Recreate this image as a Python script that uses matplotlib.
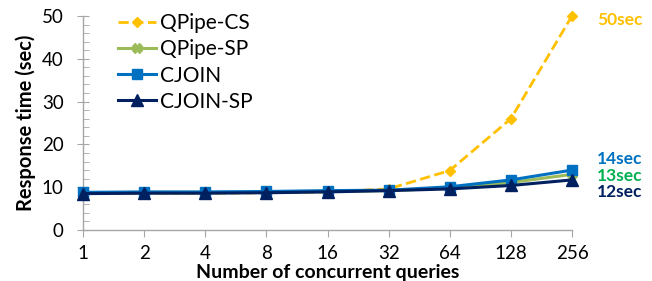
import matplotlib.pyplot as plt

plt.rcParams['font.family'] = ['Lato', 'DejaVu Sans']

queries = ['1', '2', '4', '8', '16', '32', '64', '128', '256']
qpipe_cs = [8.5, 8.6, 8.6, 8.7, 8.9, 9.6, 13.9, 26, 50]
qpipe_sp = [8.6, 8.7, 8.7, 8.8, 9.0, 9.2, 9.8, 11.1, 13]
cjoin = [8.8, 8.9, 8.9, 9.0, 9.2, 9.3, 10.1, 11.7, 14]
cjoin_sp = [8.5, 8.6, 8.6, 8.7, 8.9, 9.2, 9.6, 10.4, 11.7]
end_labels = ['50sec', '14sec', '13sec', '12sec']

x = list(range(len(queries)))

fig = plt.figure(figsize=(6.52, 2.81), dpi=100)
ax = fig.add_axes([83 / 652, 51 / 281, (572 - 83) / 652, (230 - 16) / 281])

ax.plot(x, qpipe_cs, color='#FFC000', linestyle='--', linewidth=2, marker='D',
        markersize=5, label='QPipe-CS', clip_on=False, zorder=3)
ax.plot(x, qpipe_sp, color='#9BBB59', linewidth=2.2, marker='X',
        markersize=7, label='QPipe-SP', clip_on=False, zorder=4)
ax.plot(x, cjoin, color='#0070C0', linewidth=2.2, marker='s',
        markersize=7, label='CJOIN', clip_on=False, zorder=5)
ax.plot(x, cjoin_sp, color='#002060', linewidth=2.2, marker='^',
        markersize=8, label='CJOIN-SP', clip_on=False, zorder=6)

ax.set_xlim(0, len(queries) - 1)
ax.set_ylim(0, 50)
ax.set_xticks(x)
ax.set_xticklabels(queries)
ax.set_yticks(range(0, 51, 10))
ax.set_yticks(range(0, 51, 2), minor=True)

for s in ['top', 'right']:
    ax.spines[s].set_visible(False)
for s in ['left', 'bottom']:
    ax.spines[s].set_color('#A6A6A6')
    ax.spines[s].set_linewidth(1)

ax.tick_params(axis='x', length=5, color='#A6A6A6', labelsize=13.5, pad=6)
ax.tick_params(axis='y', which='major', direction='inout', length=8,
               color='#A6A6A6', labelsize=13.5, pad=10)
ax.tick_params(axis='y', which='minor', direction='in', length=4, color='#A6A6A6')

ax.set_xlabel('Number of concurrent queries', fontsize=14, fontweight='bold', labelpad=1)
ax.set_ylabel('Response time (sec)', fontsize=14.5, fontweight='bold', labelpad=4)

fig.legend(loc='upper left', bbox_to_anchor=(118 / 652, 268 / 281), frameon=False,
           fontsize=15, handlelength=1.8, labelspacing=0.3, handletextpad=0.2,
           borderpad=0, borderaxespad=0)

label_colors = ['#FFC000', '#0070C0', '#00B050', '#002060']
label_y = [49, 16.6, 12.7, 8.8]
for txt, c, yv in zip(end_labels, label_colors, label_y):
    ax.annotate(txt, xy=(x[-1], yv), xytext=(18, 0), textcoords='offset points',
                color=c, fontsize=12.5, fontweight='bold', va='center', ha='left',
                annotation_clip=False)

fig.savefig('out.png', dpi=100)
